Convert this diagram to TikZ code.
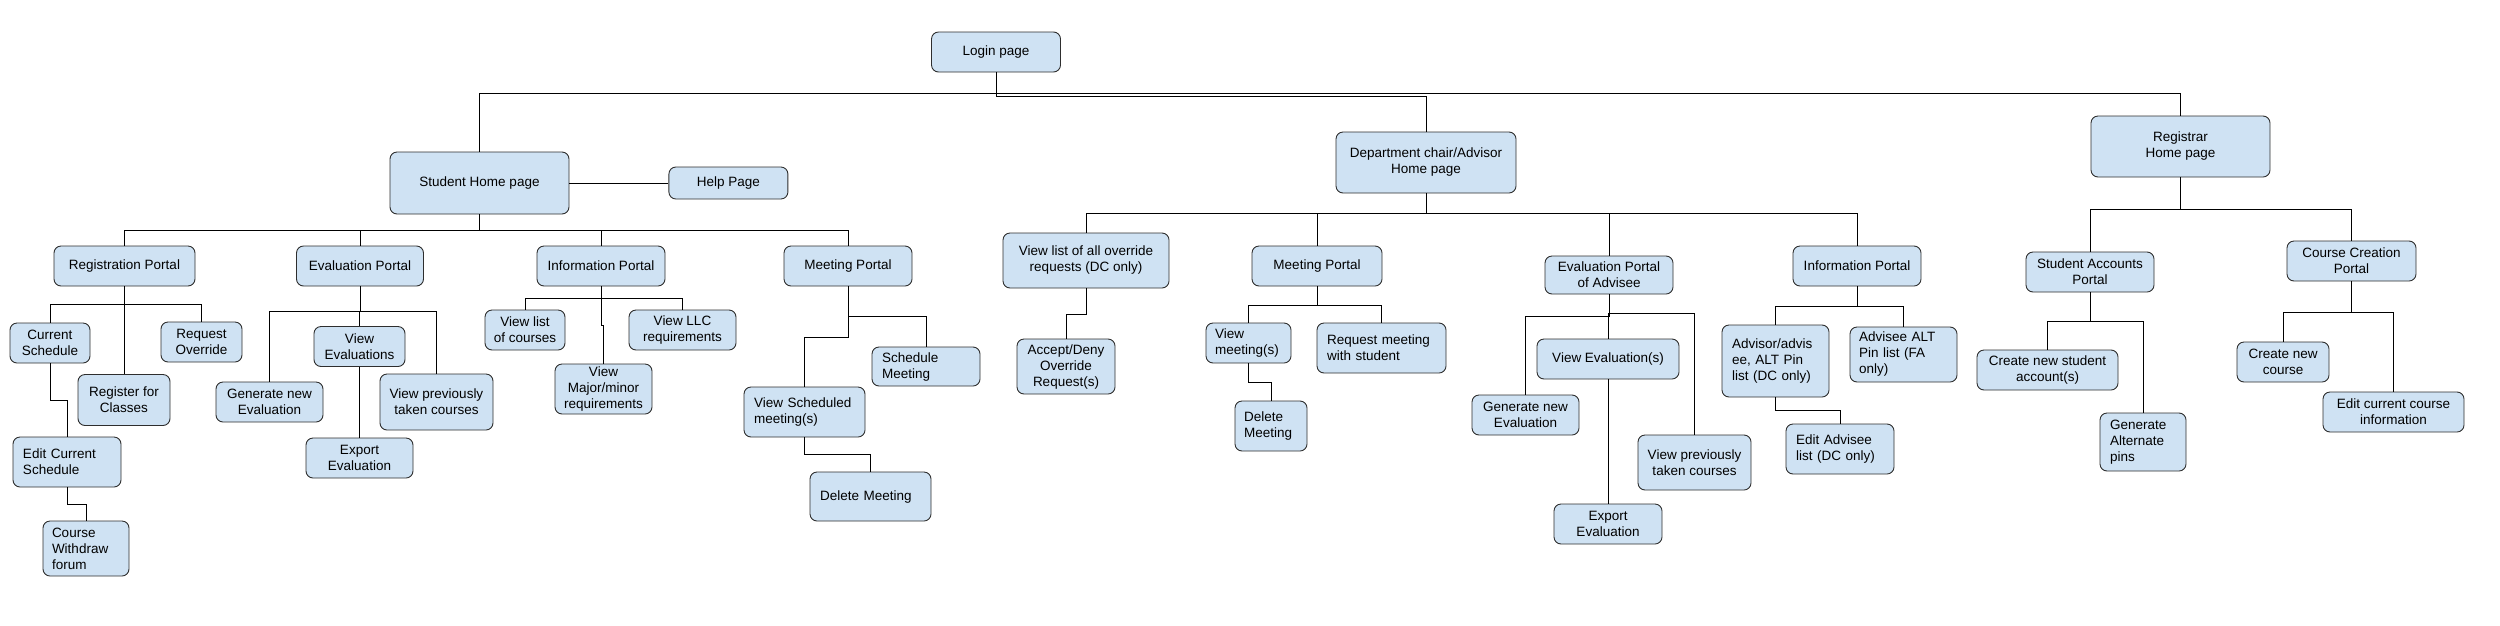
\documentclass[tikz,border=0pt]{standalone}
\usepackage{fontspec}
\setmainfont{Liberation Sans}
\usepackage{tikz}
\usetikzlibrary{positioning}
\definecolor{boxBlue}{HTML}{CFE2F3}
\definecolor{edgeGray}{HTML}{2E2E2E}

\begin{document}
\begin{tikzpicture}[
    x=1pt, y=-1pt,
    box/.style={draw=edgeGray, fill=boxBlue, rounded corners=7pt, line width=0.9pt, inner sep=0pt, align=center, font=\fontsize{13.5}{16}\selectfont},
    sz/.style 2 args={minimum width=#1, minimum height=#2},
    lft/.style={align=left, text width=#1},
    wire/.style={draw=black, line width=0.8pt},
  ]
    \useasboundingbox (0,0) rectangle (2500,625);

    % top level
    \node[box, sz={129}{40}] (login) at (996,52) {Login page};
    \node[box, sz={179}{62}] (stu) at (479.5,183) {Student Home page};
    \node[box, sz={119}{32}, right=99pt of stu] (help) {Help Page};
    \node[box, sz={180}{61}] (dept) at (1426,162.5) {Department chair/Advisor\\Home page};
    \node[box, sz={179}{61}] (reg) at (2180.5,146.5) {Registrar\\Home page};

    % student side
    \node[box, sz={141}{40}] (regp) at (124.5,266) {Registration Portal};
    \node[box, sz={127}{40}] (evalp) at (360,266) {Evaluation Portal};
    \node[box, sz={128}{40}] (infop) at (601,266) {Information Portal};
    \node[box, sz={128}{40}] (meetp) at (848,266) {Meeting Portal};

    \node[box, sz={80}{40}] (cursch) at (50,343) {Current\\Schedule};
    \node[box, sz={92}{51}] (regcls) at (124,400) {Register for\\Classes};
    \node[box, sz={81}{40}] (reqov) at (201.5,342) {Request\\Override};
    \node[box, sz={108}{50}, lft=88pt] (editsch) at (67,462) {Edit Current\\Schedule};
    \node[box, sz={86}{55}, lft=68pt] (withdraw) at (86,548.5) {Course\\Withdraw\\forum};

    \node[box, sz={91}{40}] (viewev) at (359.5,346.5) {View\\Evaluations};
    \node[box, sz={107}{40}] (geneval) at (269.5,402) {Generate new\\Evaluation};
    \node[box, sz={113}{56}] (prevc) at (436.5,402) {View previously\\taken courses};
    \node[box, sz={107}{40}] (exporte) at (359.5,458) {Export\\Evaluation};

    \node[box, sz={80}{40}] (vlist) at (525,330) {View list\\of courses};
    \node[box, sz={107}{40}] (vllc) at (682.5,330) {View LLC\\requirements};
    \node[box, sz={97}{50}] (vmajor) at (603.5,389) {View\\Major/minor\\requirements};

    \node[box, sz={108}{39}, lft=88pt] (schedm) at (926,366.5) {Schedule\\Meeting};
    \node[box, sz={121}{50}, lft=101pt] (viewsch) at (804.5,412) {View Scheduled\\meeting(s)};
    \node[box, sz={121}{49}, lft=101pt] (delm) at (870.5,496.5) {Delete Meeting};

    % department chair / advisor side
    \node[box, sz={166}{55}] (ovr) at (1086,260.5) {View list of all override\\requests (DC only)};
    \node[box, sz={98}{55}] (accept) at (1066,366.5) {Accept/Deny\\Override\\Request(s)};

    \node[box, sz={130}{40}] (meet2) at (1317,266) {Meeting Portal};
    \node[box, sz={85}{40}, lft=67pt] (viewm) at (1248.5,343) {View\\meeting(s)};
    \node[box, sz={129}{50}, lft=109pt] (reqm) at (1381.5,348) {Request meeting\\with student};
    \node[box, sz={72}{50}, lft=54pt] (del2) at (1271,426) {Delete\\Meeting};

    \node[box, sz={128}{38}] (evala) at (1609,275) {Evaluation Portal\\of Advisee};
    \node[box, sz={142}{40}] (viewev2) at (1608,359) {View Evaluation(s)};
    \node[box, sz={107}{40}] (gen2) at (1525.5,415) {Generate new\\Evaluation};
    \node[box, sz={113}{55}] (prev2) at (1694.5,462.5) {View previously\\taken courses};
    \node[box, sz={108}{40}] (export2) at (1608,524) {Export\\Evaluation};

    \node[box, sz={128}{40}] (info2) at (1857,266) {Information Portal};
    \node[box, sz={107}{72}, lft=87pt] (advl) at (1775.5,361) {Advisor/advis\\ee, ALT Pin\\list (DC only)};
    \node[box, sz={108}{50}, lft=88pt] (editadv) at (1840,449) {Edit Advisee\\list (DC only)};
    \node[box, sz={107}{55}, lft=89pt] (advpin) at (1903.5,354.5) {Advisee ALT\\Pin list (FA\\only)};

    % registrar side
    \node[box, sz={128}{40}] (sacc) at (2090,272) {Student Accounts\\Portal};
    \node[box, sz={129}{40}] (ccp) at (2351.5,261) {Course Creation\\Portal};
    \node[box, sz={141}{40}] (newacc) at (2047.5,370) {Create new student\\account(s)};
    \node[box, sz={86}{58}, lft=66pt] (altpin) at (2143,442) {Generate\\Alternate\\pins};
    \node[box, sz={92}{40}] (newcrs) at (2283,362) {Create new\\course};
    \node[box, sz={141}{40}] (editcrs) at (2393.5,412) {Edit current course\\information};

    % connectors
    \draw[wire] (login.south) -- ++(0,20.5) -| (stu.north);
    \draw[wire] (login.south) -- ++(0,20.5) -| (reg.north);
    \draw[wire] (login.south) -- ++(0,23.5) -| (dept.north);
    \draw[wire] (stu.east) -- (help.west);

    \draw[wire] (stu.south) -- ++(0,16) -| (regp.north);
    \draw[wire] (stu.south) -- ++(0,16) -| (evalp.north);
    \draw[wire] (stu.south) -- ++(0,16) -| (infop.north);
    \draw[wire] (stu.south) -- ++(0,16) -| (meetp.north);

    \draw[wire] (regp.south) -- ++(0,18) -| (cursch.north);
    \draw[wire] (regp.south) -- ++(0,18) -| (regcls.north);
    \draw[wire] (regp.south) -- ++(0,18) -| (reqov.north);
    \draw[wire] (cursch.south) -- ++(0,37) -| (editsch.north);
    \draw[wire] (editsch.south) -- ++(0,17) -| (withdraw.north);

    \draw[wire] (evalp.south) -- ++(0,25) -| (geneval.north);
    \draw[wire] (evalp.south) -- ++(0,25) -| (viewev.north);
    \draw[wire] (evalp.south) -- ++(0,25) -| (prevc.north);
    \draw[wire] (viewev.south) -- (exporte.north);

    \draw[wire] (infop.south) -- ++(0,12) -| (vlist.north);
    \draw[wire] (infop.south) -- ++(0,12) -| (vllc.north);
    \draw[wire] (infop.south) -- ++(0,39) -| (vmajor.north);

    \draw[wire] (meetp.south) -- ++(0,30) -| (schedm.north);
    \draw[wire] (meetp.south) -- ++(0,51) -| (viewsch.north);
    \draw[wire] (viewsch.south) -- ++(0,17) -| (delm.north);

    \draw[wire] (dept.south) -- ++(0,19.5) -| (ovr.north);
    \draw[wire] (dept.south) -- ++(0,19.5) -| (meet2.north);
    \draw[wire] (dept.south) -- ++(0,19.5) -| (evala.north);
    \draw[wire] (dept.south) -- ++(0,19.5) -| (info2.north);

    \draw[wire] (ovr.south) -- ++(0,26) -| (accept.north);
    \draw[wire] (meet2.south) -- ++(0,19) -| (viewm.north);
    \draw[wire] (meet2.south) -- ++(0,19) -| (reqm.north);
    \draw[wire] (viewm.south) -- ++(0,19) -| (del2.north);

    \draw[wire] (evala.south) -- ++(0,22) -| (gen2.north);
    \draw[wire] (evala.south) -- ++(0,19) -| (viewev2.north);
    \draw[wire] (evala.south) -- ++(0,19) -| (prev2.north);
    \draw[wire] (viewev2.south) -- (export2.north);

    \draw[wire] (info2.south) -- ++(0,20) -| (advl.north);
    \draw[wire] (info2.south) -- ++(0,20) -| (advpin.north);
    \draw[wire] (advl.south) -- ++(0,13) -| (editadv.north);

    \draw[wire] (reg.south) -- ++(0,31.5) -| (sacc.north);
    \draw[wire] (reg.south) -- ++(0,31.5) -| (ccp.north);
    \draw[wire] (sacc.south) -- ++(0,29) -| (newacc.north);
    \draw[wire] (sacc.south) -- ++(0,29) -| (altpin.north);
    \draw[wire] (ccp.south) -- ++(0,31) -| (newcrs.north);
    \draw[wire] (ccp.south) -- ++(0,31) -| (editcrs.north);
  \end{tikzpicture}
\end{document}
